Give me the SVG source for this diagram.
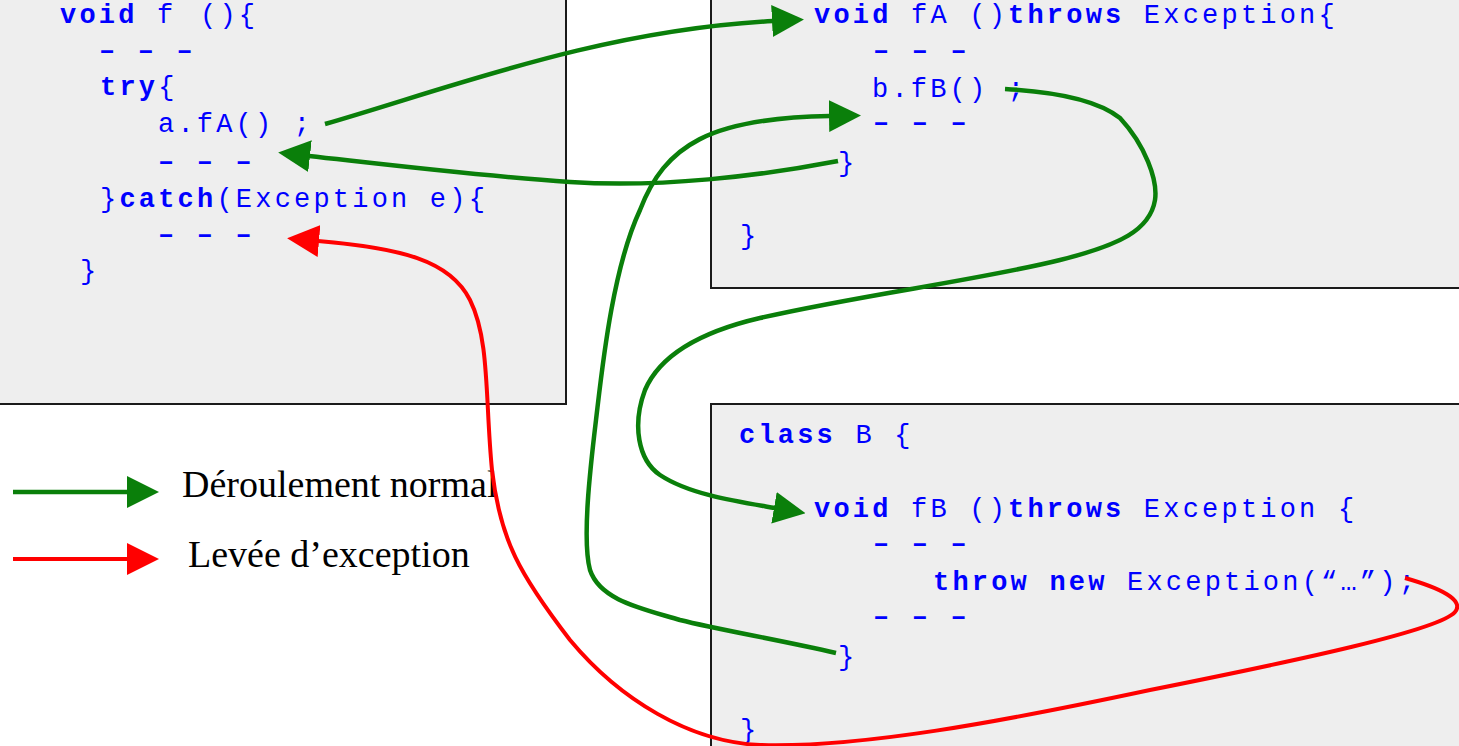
<svg xmlns="http://www.w3.org/2000/svg" width="1459" height="746" viewBox="0 0 1459 746">
<defs>
<style>
.box{fill:#eeeeee;stroke:#1a1a1a;stroke-width:2}
.code{font-family:"Liberation Mono","Courier New",monospace;font-size:27px;letter-spacing:3.2px;fill:#0000ff}
.b{font-weight:bold}
.leg{font-family:"Liberation Serif","Times New Roman",serif;font-size:38px;fill:#000}
.g{fill:none;stroke:#0a7f0a;stroke-width:4.5}
.r{fill:none;stroke:#ff0000;stroke-width:4}
</style>
<marker id="ag" markerUnits="userSpaceOnUse" markerWidth="32" markerHeight="32" viewBox="0 0 32 32" refX="1" refY="16" orient="auto"><path d="M0,0 L32,16 L0,32 Z" fill="#0a7f0a"/></marker>
<marker id="ar" markerUnits="userSpaceOnUse" markerWidth="32" markerHeight="32" viewBox="0 0 32 32" refX="1" refY="16" orient="auto"><path d="M0,0 L32,16 L0,32 Z" fill="#ff0000"/></marker>
</defs>
<rect width="1459" height="746" fill="#ffffff"/>

<g id="node-f">
<rect class="box" x="-3" y="-3" width="569" height="407"/>
<text class="code" x="60" y="23"><tspan class="b">void</tspan> f</text>
<text class="code" x="200" y="23">(){</text>
<text class="code b" x="99" y="59">– – –</text>
<text class="code" x="100" y="95"><tspan class="b">try</tspan>{</text>
<text class="code" x="158" y="132">a.fA() ;</text>
<text class="code b" x="158" y="170">– – –</text>
<text class="code" x="100" y="207">}<tspan class="b">catch</tspan>(Exception e){</text>
<text class="code b" x="158" y="243">– – –</text>
<text class="code" x="80" y="279">}</text>
</g>

<g id="node-fA">
<rect class="box" x="711" y="-3" width="760" height="291"/>
<text class="code" x="814" y="23"><tspan class="b">void</tspan> fA ()<tspan class="b">throws</tspan> Exception{</text>
<text class="code b" x="873" y="59">– – –</text>
<text class="code" x="872" y="97">b.fB() ;</text>
<text class="code b" x="873" y="131">– – –</text>
<text class="code" x="838" y="171">}</text>
<text class="code" x="740" y="244">}</text>
</g>

<g id="node-B">
<rect class="box" x="711" y="404" width="760" height="360"/>
<text class="code" x="739" y="443"><tspan class="b">class</tspan> B {</text>
<text class="code" x="814" y="517"><tspan class="b">void</tspan> fB ()<tspan class="b">throws</tspan> Exception {</text>
<text class="code b" x="873" y="552">– – –</text>
<text class="code" x="933" y="590"><tspan class="b">throw new</tspan> Exception(“…”);</text>
<text class="code b" x="873" y="625">– – –</text>
<text class="code" x="838" y="665">}</text>
<text class="code" x="740" y="738">}</text>
</g>

<g id="legend">
<line class="g" x1="13" y1="492" x2="128" y2="492" marker-end="url(#ag)"/>
<text class="leg" x="182" y="497">Déroulement normal</text>
<line class="r" x1="13" y1="559" x2="128" y2="559" marker-end="url(#ar)"/>
<text class="leg" x="188" y="567">Levée d’exception</text>
</g>

<g id="connectors">
<path class="g" d="M325,124 C450,88 600,30 773,21" marker-end="url(#ag)"/>
<path class="g" d="M838,161 C760,176 660,188 570,182 C480,176 390,165 309,156" marker-end="url(#ag)"/>
<path class="g" d="M1005,89 C1060,92 1100,102 1120,118 C1145,145 1158,180 1155,200 C1150,230 1120,245 1060,260 C980,280 860,295 760,318 C700,332 660,355 645,390 C632,425 638,460 660,475 C690,495 740,502 775,508" marker-end="url(#ag)"/>
<path class="g" d="M836,653 C780,640 720,630 680,620 C640,608 600,600 590,570 C582,540 590,470 596,420 C602,370 612,270 640,210 C665,145 710,118 830,116" marker-end="url(#ag)"/>
<path class="r" d="M1405,578 C1440,588 1465,600 1455,612 C1440,630 1300,660 1150,690 C1000,722 860,748 760,745 C690,742 620,700 570,640 C520,575 500,540 492,470 C485,400 490,340 470,300 C450,260 400,248 318,241" marker-end="url(#ar)"/>
</g>
</svg>
